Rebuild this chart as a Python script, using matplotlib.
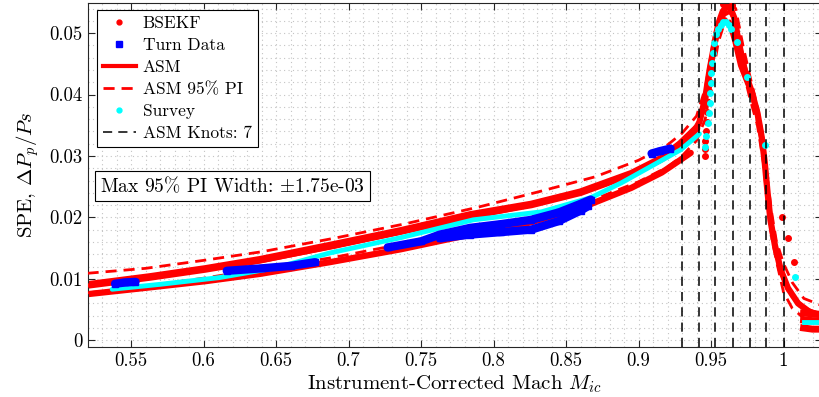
import numpy as np
import matplotlib
matplotlib.use('Agg')
import matplotlib.pyplot as plt
from matplotlib.ticker import MultipleLocator, FuncFormatter
from matplotlib.lines import Line2D

plt.rcParams['font.family'] = ['cmr10', 'DejaVu Serif']
plt.rcParams['mathtext.fontset'] = 'cm'
plt.rcParams['axes.unicode_minus'] = False
plt.rcParams['axes.formatter.use_mathtext'] = True

# BSEKF estimates: two dense flight bands below the transonic hump
bsekf_upper_mach = [0.520, 0.563, 0.601, 0.639, 0.687, 0.736, 0.784, 0.826, 0.860, 0.895, 0.916, 0.929, 0.940]
bsekf_upper_spe = [0.0090, 0.0103, 0.0116, 0.0131, 0.0154, 0.0178, 0.0204, 0.0221, 0.0241, 0.0271, 0.0296, 0.0320, 0.0345]
bsekf_lower_mach = [0.520, 0.563, 0.601, 0.639, 0.687, 0.736, 0.784, 0.826, 0.860, 0.895, 0.916, 0.936]
bsekf_lower_spe = [0.0075, 0.0086, 0.0096, 0.0108, 0.0127, 0.0148, 0.0172, 0.0192, 0.0215, 0.0248, 0.0273, 0.0305]
# BSEKF through the hump (outer and inner traces)
bsekf_peak_mach = [0.936, 0.942, 0.946, 0.949, 0.952, 0.955, 0.958, 0.961, 0.9635, 0.966, 0.968, 0.971, 0.974,
                   0.978, 0.982, 0.985, 0.987, 0.989, 0.991, 0.994, 0.998, 1.003, 1.010, 1.018, 1.027]
bsekf_peak_spe = [0.0330, 0.0355, 0.0395, 0.0440, 0.0478, 0.0515, 0.0535, 0.0543, 0.0540, 0.0525, 0.0495, 0.0460, 0.0432,
                  0.0405, 0.0370, 0.0330, 0.0290, 0.0240, 0.0195, 0.0155, 0.0115, 0.0085, 0.0060, 0.0046, 0.0040]
bsekf_inner_mach = [0.950, 0.953, 0.957, 0.960, 0.963, 0.966, 0.970, 0.975, 0.979, 0.983, 0.986]
bsekf_inner_spe = [0.0450, 0.0500, 0.0525, 0.0522, 0.0512, 0.0487, 0.0447, 0.0417, 0.0395, 0.0357, 0.0320]
bsekf_tail_mach = [1.0138, 1.020, 1.027]
bsekf_tail_hi = [0.0044, 0.0043, 0.0042]
bsekf_tail_mid = [0.0033, 0.0032, 0.0032]
bsekf_tail_lo = [0.0020, 0.0018, 0.0018]
bsekf_dot_mach = [0.9455, 0.9458, 0.9460, 0.9465, 0.9470, 0.9475, 0.9480, 0.9485, 0.9490, 0.9585, 0.9620, 0.9645,
                  0.9991, 1.0028, 1.0074]
bsekf_dot_spe = [0.0300, 0.0312, 0.0325, 0.0340, 0.0356, 0.0372, 0.0388, 0.0405, 0.0420, 0.0547, 0.0550, 0.0545,
                 0.0201, 0.0166, 0.0128]

# turn data segments (upper and lower edges of each cluster)
turn_segments = [
    ([0.539, 0.546, 0.553], [0.0092, 0.0094, 0.0095]),
    ([0.616, 0.640, 0.660, 0.677], [0.0113, 0.0117, 0.0121, 0.0127]),
    ([0.727, 0.750, 0.763, 0.784, 0.805, 0.826, 0.845, 0.860, 0.867],
     [0.0151, 0.0161, 0.0172, 0.0183, 0.0189, 0.0196, 0.0208, 0.0222, 0.0229]),
    ([0.763, 0.784, 0.805, 0.826, 0.845, 0.860, 0.865],
     [0.0166, 0.0172, 0.0176, 0.0180, 0.0194, 0.0211, 0.0218]),
    ([0.909, 0.915, 0.922], [0.0304, 0.0308, 0.0312]),
]

# adaptive spline model and its 95% prediction interval
asm_mach = [0.520, 0.560, 0.600, 0.640, 0.690, 0.740, 0.790, 0.830, 0.870, 0.900, 0.920, 0.930, 0.940, 0.946,
            0.951, 0.955, 0.959, 0.963, 0.967, 0.972, 0.977, 0.982, 0.986, 0.989, 0.992, 0.995, 1.000, 1.006,
            1.014, 1.027]
asm_spe = [0.0089, 0.0101, 0.0115, 0.0129, 0.0152, 0.0177, 0.0202, 0.0222, 0.0248, 0.0276, 0.0300, 0.0318,
           0.0345, 0.0385, 0.0455, 0.0505, 0.0530, 0.0535, 0.0520, 0.0460, 0.0410, 0.0365, 0.0310, 0.0240,
           0.0185, 0.0145, 0.0100, 0.0072, 0.0052, 0.0040]
pi_upper = [0.0109, 0.0117, 0.0130, 0.0144, 0.0166, 0.0190, 0.0217, 0.0241, 0.0266, 0.0293, 0.0318, 0.0337,
            0.0365, 0.0410, 0.0480, 0.0520, 0.0545, 0.0550, 0.0540, 0.0480, 0.0428, 0.0380, 0.0330, 0.0260,
            0.0205, 0.0162, 0.0125, 0.0094, 0.0068, 0.0056]
pi_lower = [0.0077, 0.0088, 0.0101, 0.0116, 0.0135, 0.0158, 0.0182, 0.0203, 0.0230, 0.0258, 0.0282, 0.0300,
            0.0325, 0.0360, 0.0430, 0.0485, 0.0515, 0.0520, 0.0500, 0.0440, 0.0392, 0.0350, 0.0290, 0.0220,
            0.0165, 0.0130, 0.0078, 0.0052, 0.0036, 0.0025]

# survey points
survey_band_mach = [0.537, 0.570, 0.611, 0.650, 0.687, 0.736, 0.786, 0.833, 0.867, 0.888, 0.907, 0.929, 0.942]
survey_band_spe = [0.0083, 0.0091, 0.0102, 0.0118, 0.0142, 0.0167, 0.0196, 0.0209, 0.0232, 0.0256, 0.0281, 0.0310, 0.0336]
survey_dot_mach = [0.9456, 0.9467, 0.9479, 0.9483, 0.9490, 0.9495, 0.9497, 0.9502, 0.9507, 0.9514, 0.9521,
                   0.9532, 0.9548, 0.9566, 0.9585, 0.9604, 0.9622, 0.9636, 0.9677, 0.9749, 0.9871, 1.0078]
survey_dot_spe = [0.0315, 0.0332, 0.0353, 0.0370, 0.0386, 0.0402, 0.0419, 0.0435, 0.0451, 0.0468, 0.0484,
                  0.0498, 0.0507, 0.0514, 0.0518, 0.0518, 0.0514, 0.0507, 0.0485, 0.0428, 0.0318, 0.0103]
survey_tail_mach = [1.0140, 1.020, 1.027]
survey_tail_spe = [0.0029, 0.0029, 0.0029]

knot_mach = [0.930, 0.942, 0.953, 0.965, 0.977, 0.988, 1.000]
max_pi_width = 1.75e-3


def main():
    fig = plt.figure(figsize=(8.2, 3.97), dpi=100)
    ax = fig.add_axes([0.1073, 0.126, 0.8951, 0.8664])

    red = '#ff0000'
    # BSEKF (dense dots drawn as bands)
    ax.plot(bsekf_upper_mach, bsekf_upper_spe, color=red, lw=5.5, solid_capstyle='round', zorder=2)
    ax.plot(bsekf_lower_mach, bsekf_lower_spe, color=red, lw=4.5, solid_capstyle='round', zorder=2)
    ax.plot(bsekf_peak_mach, bsekf_peak_spe, color=red, lw=4.5, solid_capstyle='round', zorder=2)
    ax.plot(bsekf_inner_mach, bsekf_inner_spe, color=red, lw=3, solid_capstyle='round', zorder=2)
    for tail in (bsekf_tail_hi, bsekf_tail_mid, bsekf_tail_lo):
        ax.plot(bsekf_tail_mach, tail, color=red, lw=5, zorder=2)
    ax.plot(bsekf_dot_mach, bsekf_dot_spe, '.', color=red, ms=8, zorder=2)

    # ASM fit and PI
    ax.plot(asm_mach, asm_spe, color=red, lw=3, zorder=3)
    ax.plot(asm_mach, pi_upper, '--', color=red, lw=2, dashes=(4, 2.5), zorder=3)
    ax.plot(asm_mach, pi_lower, '--', color=red, lw=2, dashes=(4, 2.5), zorder=3)

    # survey
    ax.plot(survey_band_mach, survey_band_spe, color='cyan', lw=3.5, solid_capstyle='round', zorder=4)
    ax.plot(survey_dot_mach, survey_dot_spe, '.', color='cyan', ms=8, zorder=4)
    ax.plot(survey_tail_mach, survey_tail_spe, color='cyan', lw=3.5, zorder=4)

    # turn data
    for m, s in turn_segments:
        ax.plot(m, s, 's-', color='blue', lw=6, ms=4, solid_capstyle='round', zorder=5)

    for k in knot_mach:
        ax.axvline(k, color='black', lw=1.1, ls='--', dashes=(6, 4), zorder=6)

    ax.set_xlim(0.5203, 1.0265)
    ax.set_ylim(-0.0011, 0.0549)
    ax.xaxis.set_major_locator(MultipleLocator(0.05))
    ax.xaxis.set_minor_locator(MultipleLocator(0.01))
    ax.yaxis.set_major_locator(MultipleLocator(0.01))
    ax.yaxis.set_minor_locator(MultipleLocator(0.002))
    fmt = FuncFormatter(lambda v, p: '%g' % round(v, 4))
    ax.xaxis.set_major_formatter(fmt)
    ax.yaxis.set_major_formatter(fmt)
    ax.grid(True, which='both', ls=(0, (1, 3)), color='#c4c4c4', lw=0.8)
    ax.set_axisbelow(True)
    ax.tick_params(which='major', direction='in', length=5, width=0.8, top=True, right=True,
                   labelsize=13.5, color='#262626', pad=4)
    ax.tick_params(which='minor', length=0, top=True, right=True)
    for sp in ax.spines.values():
        sp.set_color('#262626')
        sp.set_linewidth(0.8)

    ax.set_xlabel(r'Instrument-Corrected Mach $M_{ic}$', fontsize=15, labelpad=2)
    ax.set_ylabel(r'SPE, $\Delta P_p/Ps$', fontsize=15, labelpad=6)

    handles = [
        Line2D([], [], ls='none', marker='.', color=red, ms=7),
        Line2D([], [], ls='none', marker='s', color='blue', ms=5),
        Line2D([], [], color=red, lw=3),
        Line2D([], [], color=red, lw=2, ls='--', dashes=(4, 2.5)),
        Line2D([], [], ls='none', marker='.', color='cyan', ms=7),
        Line2D([], [], color='black', lw=1.1, ls='--', dashes=(6, 4)),
    ]
    labels = ['BSEKF', 'Turn Data', 'ASM', 'ASM 95% PI', 'Survey', 'ASM Knots: %d' % len(knot_mach)]
    leg = ax.legend(handles, labels, loc='upper left', bbox_to_anchor=(0.012, 0.98), borderaxespad=0,
                    fontsize=12.5, labelspacing=0.38, handlelength=1.9, handletextpad=0.4,
                    borderpad=0.35, fancybox=False, framealpha=1, edgecolor='black')
    leg.get_frame().set_linewidth(0.8)

    ax.text(0.016, 0.468, r'Max 95%% PI Width: $\pm$%.2e' % max_pi_width, transform=ax.transAxes,
            fontsize=14, va='center', ha='left', zorder=7,
            bbox=dict(boxstyle='square,pad=0.25', fc='white', ec='black', lw=0.8))

    fig.savefig('out.png', dpi=100)
    plt.close(fig)


if __name__ == '__main__':
    main()
